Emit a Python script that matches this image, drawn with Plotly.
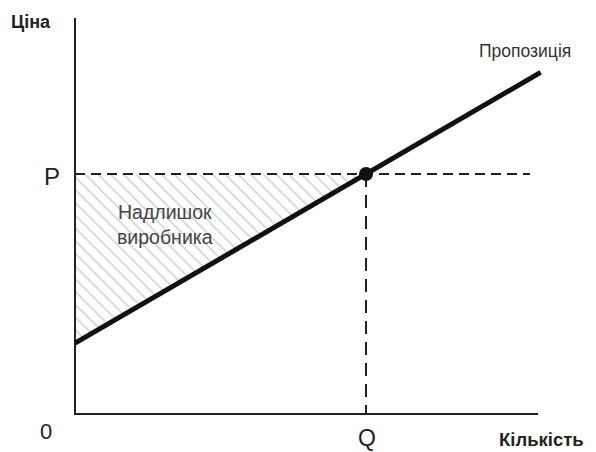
import plotly.graph_objects as go

# Data (economic units)
supply_x = [0.0, 9.6]
supply_y = [1.77, 8.54]
eq_q = 6.0
eq_p = 6.0
x_axis_end = 9.55
y_axis_top = 9.9
p_dash_end = 9.38
tick_labels = {"p": "P", "q": "Q", "origin": "0"}
axis_titles = {"x": "Кількість", "y": "Ціна"}
curve_label = "Пропозиція"
area_label = "Надлишок<br>виробника"

# pixel scale helpers (figure is drawn inside an 8px page margin)
X0, Y0, SX, SY = 67, 406, 48.5, 40.0
W, H = 588, 444


def dx(px):  # reference pixel -> data x
    return (px - 8 - X0) / SX


def dy(py):
    return (Y0 - (py - 8)) / SY


fig = go.Figure()

# Producer surplus hatched area
fig.add_trace(go.Scatter(
    x=[0, eq_q, 0, 0], y=[eq_p, eq_p, supply_y[0], eq_p],
    mode="lines", line=dict(width=0), fill="toself",
    fillcolor="rgba(0,0,0,0)",
    fillpattern=dict(shape="\\", fgcolor="#7f98aa", bgcolor="rgba(0,0,0,0)",
                     size=9, solidity=0.14),
    hoverinfo="skip", showlegend=False))

# Axes
fig.add_trace(go.Scatter(x=[0, 0, x_axis_end], y=[y_axis_top, 0, 0], mode="lines",
                         line=dict(color="#222", width=2), showlegend=False, hoverinfo="skip"))

# Dashed guides
fig.add_trace(go.Scatter(x=[0, p_dash_end], y=[eq_p, eq_p], mode="lines",
                         line=dict(color="#222", width=2, dash="10px,6px"),
                         showlegend=False, hoverinfo="skip"))
fig.add_trace(go.Scatter(x=[eq_q, eq_q], y=[eq_p, 0], mode="lines",
                         line=dict(color="#222", width=2, dash="13px,8px"),
                         showlegend=False, hoverinfo="skip"))

# Supply curve
fig.add_trace(go.Scatter(x=supply_x, y=supply_y, mode="lines",
                         line=dict(color="#111", width=5), showlegend=False, hoverinfo="skip"))

# Equilibrium point
fig.add_trace(go.Scatter(x=[eq_q], y=[eq_p], mode="markers",
                         marker=dict(color="#111", size=14), showlegend=False, hoverinfo="skip"))

font_family = "Liberation Sans, Arial, sans-serif"
ann = [
    dict(x=dx(52), y=dy(176), text=tick_labels["p"], font=dict(size=24, color="#222")),
    dict(x=dx(367), y=dy(438), text=tick_labels["q"], font=dict(size=23, color="#222")),
    dict(x=dx(46), y=dy(431), text=tick_labels["origin"], font=dict(size=22, color="#222")),
    dict(x=dx(541), y=dy(439), text="<b>" + axis_titles["x"] + "</b>", font=dict(size=18.5, color="#222")),
    dict(x=dx(31), y=dy(22), text="<b>" + axis_titles["y"] + "</b>", font=dict(size=18, color="#222")),
    dict(x=dx(525), y=dy(51), text=curve_label, font=dict(size=17.5, color="#333")),
    dict(x=dx(165), y=dy(224), text=area_label, font=dict(size=19.5, color="#444")),
]
for a in ann:
    a.update(showarrow=False, xref="x", yref="y", font_family=font_family)
    fig.add_annotation(**a)

fig.update_layout(
    width=W, height=H,
    margin=dict(l=0, r=0, t=0, b=0),
    plot_bgcolor="white", paper_bgcolor="white",
    xaxis=dict(range=[-X0 / SX, (W - X0) / SX], visible=False, fixedrange=True),
    yaxis=dict(range=[(Y0 - H) / SY, Y0 / SY], visible=False, fixedrange=True),
    showlegend=False,
)

fig.write_html("out.html")
